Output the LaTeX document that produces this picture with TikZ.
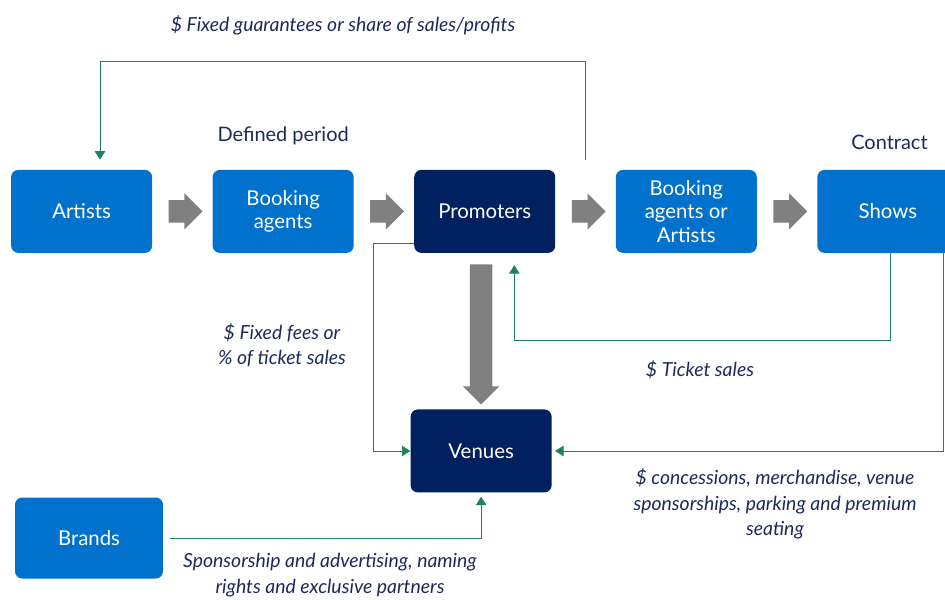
\documentclass[tikz,border=0pt]{standalone}
\usepackage{fontspec}
\setmainfont{Lato}
\usetikzlibrary{positioning, shapes.arrows, arrows.meta}

\definecolor{boxblue}{RGB}{0,114,206}
\definecolor{boxnavy}{RGB}{0,32,96}
\definecolor{flowgreen}{RGB}{30,130,90}
\definecolor{labelnavy}{RGB}{28,42,90}

\tikzset{
  box/.style={rounded corners=0.18cm, fill=boxblue, text=white, align=center,
    minimum width=3.525cm, minimum height=2.075cm, inner sep=2pt,
    font=\fontsize{14.5}{16.5}\selectfont},
  darkbox/.style={box, fill=boxnavy},
  blockarrow/.style={single arrow, fill=black!50, draw=none, inner sep=0.275cm,
    minimum height=0.8cm, single arrow head extend=0.17cm},
  money/.style={draw=flowgreen, line width=0.55pt,
    -{Triangle[length=2.1mm, width=2.6mm]}},
  note/.style={text=labelnavy, align=center, inner sep=0pt,
    font=\fontsize{13.8}{18}\selectfont\itshape},
  tag/.style={text=labelnavy, inner sep=0pt, font=\fontsize{14.2}{16}\selectfont}
}

\begin{document}
\begin{tikzpicture}
  \useasboundingbox (0,0) rectangle (23.625,14.975);
  \clip (0,0) rectangle (23.625,14.975);

  % main chain
  \node[box] (artists) at (2.04,9.69) {Artists};
  \node[box, right=1.5cm of artists] (booking) {Booking\\agents};
  \node[darkbox, right=1.5cm of booking] (promoters) {Promoters};
  \node[box, right=1.5cm of promoters] (agentsartists) {Booking\\agents or\\Artists};
  \node[box, right=1.5cm of agentsartists] (shows) {Shows};
  \node[darkbox, below=3.9cm of promoters, xshift=-0.09cm] (venues) {Venues};
  \node[box, minimum width=3.7cm, minimum height=2.025cm] (brands) at (2.225,1.525) {Brands};

  % grey arrows
  \node[blockarrow, right=0.4cm of artists] (arrow1) {};
  \node[blockarrow, right=0.4cm of booking] (arrow2) {};
  \node[blockarrow, right=0.4cm of promoters] (arrow3) {};
  \node[blockarrow, right=0.4cm of agentsartists] (arrow4) {};
  \node[blockarrow, shape border rotate=270, minimum height=3.5cm,
    below=0.275cm of promoters, xshift=-0.09cm] (arrowdown) {};

  \node[tag, above=0.6cm of booking] (period) {Defined period};
  \node[tag, above=0.5cm of shows, xshift=0.04cm] (contract) {Contract};

  % money flows
  \coordinate (guarantee) at (14.625,10.975);
  \draw[money] (guarantee) -- ++(0,2.475)
    -| ([xshift=0.46cm,yshift=0.25cm]artists.north);
  \node[note] (guaranteelabel) at (8.575,14.35)
    {\$ Fixed guarantees or share of sales/profits};

  \draw[money] ([yshift=-0.79cm]promoters.west) -- ++(-1.025,0) |- (venues.west);
  \node[note] (feeslabel) at (7.05,6.35) {\$ Fixed fees or\\\% of ticket sales};

  \draw[money] ([xshift=0.06cm]shows.south) -- ++(0,-2.175)
    -| ([xshift=0.74cm,yshift=-0.3cm]promoters.south);
  \node[note] (ticketlabel) at (17.5,5.725) {\$ Ticket sales};

  \draw[money] ([xshift=-0.375cm]shows.south east) |- ([xshift=0.08cm]venues.east);
  \node[note] (venuelabel) at (19.375,2.375)
    {\$ concessions, merchandise, venue\\sponsorships, parking and premium\\seating};

  \draw[money] ([xshift=0.18cm]brands.east) -| ([yshift=-0.1cm]venues.south);
  \node[note] (brandlabel) at (8.25,0.6)
    {Sponsorship and advertising, naming\\rights and exclusive partners};
\end{tikzpicture}
\end{document}
